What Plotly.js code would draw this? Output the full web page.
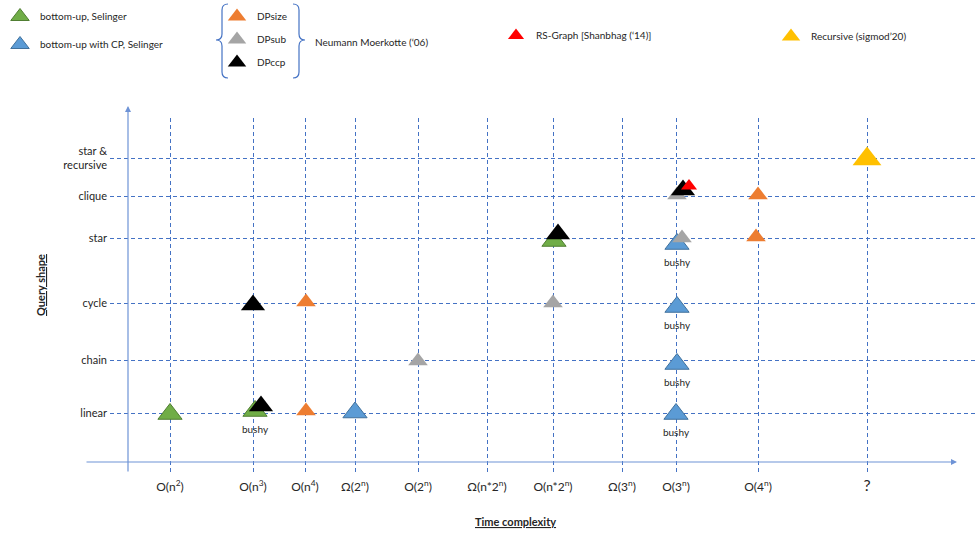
<!DOCTYPE html>
<html>
<head>
<meta charset="utf-8">
<script src="https://cdn.plot.ly/plotly-3.0.1.min.js"></script>
<style>html,body{margin:0;padding:0;background:#fff;}#chart{width:975px;height:533px;}</style>
</head>
<body>
<div id="chart"></div>
<script>
// ---- categories (x: time complexity classes, y: query shapes) ----
const complexities = ['O(n<sup>2</sup>)', 'O(n<sup>3</sup>)', 'O(n<sup>4</sup>)', 'Ω(2<sup>n</sup>)', 'O(2<sup>n</sup>)',
  'Ω(n*2<sup>n</sup>)', 'O(n*2<sup>n</sup>)', 'Ω(3<sup>n</sup>)', 'O(3<sup>n</sup>)', 'O(4<sup>n</sup>)',
  '<span style="font-size:16px">?</span>'];
const complexityPos = [17.0, 25.3, 30.5, 35.5, 41.8, 48.7, 55.3, 62.2, 67.6, 75.8, 86.7];
const queryShapes = ['star &<br>recursive', 'clique', 'star', 'cycle', 'chain', 'linear'];
const queryShapePos = [31.6, 27.8, 23.6, 17.1, 11.4, 6.1];

// ---- series ----
const greenName = 'bottom-up, Selinger';
const greenX = [17.0, 25.5, 55.4];
const greenY = [6.0, 6.3, 23.3];
const greenText = ['', 'bushy', ''];

const blueName = 'bottom-up with CP, Selinger';
const blueX = [35.5, 67.6, 67.7, 67.7, 67.7];
const blueY = [6.15, 6.0, 11.0, 16.7, 23.0];
const blueText = ['', 'bushy', 'bushy', 'bushy', 'bushy'];

const orangeName = 'DPsize';
const orangeX = [30.6, 30.6, 75.8, 75.6];
const orangeY = [17.2, 6.3, 27.9, 23.7];

const greyName = 'DPsub';
const greyX = [41.8, 55.3, 67.7, 68.2];
const greyY = [11.3, 17.1, 27.9, 23.6];

const blackName = 'DPccp';
const blackX = [25.3, 26.1, 55.8, 68.3];
const blackY = [16.9, 6.8, 24.0, 28.4];

const redName = 'RS-Graph [Shanbhag (‘14)]';
const redX = [68.9];
const redY = [28.8];

const yellowName = 'Recursive (sigmod’20)';
const yellowX = [86.7];
const yellowY = [31.5];

const groupLabel = 'Neumann Moerkotte (‘06)';
const xTitle = 'Time complexity';
const yTitle = 'Query shape';

// ---- layout helpers (pixel -> paper) ----
const W = 975, H = 533, ML = 110, MR = 0, MT = 118, MB = 59;
const PW = W - ML - MR, PH = H - MT - MB;
const fx = px => (px - ML) / PW;
const fy = py => (H - MB - py) / PH;
const P = (px, py) => fx(px).toFixed(5) + ',' + fy(py).toFixed(5);

const FONT = 'Lato, "Open Sans", "Liberation Sans", sans-serif';
const TXT = '#262626';

function tri(name, x, y, color, size, legend, group, line, text) {
  const t = {
    type: 'scatter', mode: text ? 'markers+text' : 'markers', name: name, x: x, y: y,
    legend: legend, legendgroup: group, showlegend: true, cliponaxis: false,
    marker: {symbol: 'triangle-up', size: size, color: color,
             line: line ? {color: line, width: 1} : {width: 0}},
    hoverinfo: 'name'
  };
  if (text) {
    t.text = text; t.textposition = 'bottom center';
    t.textfont = {family: FONT, size: 10, color: TXT};
  }
  return t;
}

const traces = [
  tri(greenName, greenX, greenY, '#70AD47', 21, 'legend', 'g1', '#507E32', greenText),
  tri(blueName, blueX, blueY, '#5B9BD5', 21, 'legend', 'g2', '#41719C', blueText),
  tri(orangeName, orangeX, orangeY, '#ED7D31', 17, 'legend2', 'g3', null, null),
  tri(greyName, greyX, greyY, '#A5A5A5', 17, 'legend2', 'g4', null, null),
  tri(blackName, blackX, blackY, '#000000', 21, 'legend2', 'g5', null, null),
  tri(redName, redX, redY, '#FF0000', 14, 'legend3', 'g6', null, null),
  tri(yellowName, yellowX, yellowY, '#FFC000', 25, 'legend4', 'g7', null, null)
];

function leg(pxX, pxY, gap) {
  return {xref: 'container', yref: 'container', x: pxX / W, y: 1 - pxY / H,
    xanchor: 'left', yanchor: 'top', bgcolor: 'rgba(0,0,0,0)', borderwidth: 0,
    font: {family: FONT, size: 10, color: TXT}, itemsizing: 'trace',
    tracegroupgap: gap, itemclick: false, itemdoubleclick: false};
}

const braceColor = '#4472C4';
const layout = {
  width: W, height: H,
  margin: {l: ML, r: MR, t: MT, b: MB, pad: 0, autoexpand: false},
  paper_bgcolor: '#ffffff', plot_bgcolor: '#ffffff',
  font: {family: FONT, color: TXT},
  showlegend: true,
  legend: leg(0, 2, 9),
  legend2: leg(217, 2, 4),
  legend3: leg(496, 21, 0),
  legend4: leg(771, 22, 0),
  xaxis: {
    range: [11, 97.5], tickmode: 'array', tickvals: complexityPos, ticktext: complexities,
    showgrid: true, gridcolor: '#4472C4', griddash: '4px,3px', gridwidth: 1,
    zeroline: false, showline: false, ticks: '', ticklabelstandoff: 4, tickangle: 0, automargin: false,
    tickfont: {family: FONT, size: 12, color: TXT}, fixedrange: true
  },
  yaxis: {
    range: [0, 35.6], tickmode: 'array', tickvals: queryShapePos, ticktext: queryShapes,
    showgrid: true, gridcolor: '#4472C4', griddash: '4px,3px', gridwidth: 1,
    zeroline: false, showline: false, ticks: '', ticklabelstandoff: 2, automargin: false,
    tickfont: {family: FONT, size: 11, color: TXT}, fixedrange: true
  },
  shapes: [
    {type: 'path', xref: 'paper', yref: 'paper', layer: 'above',
     path: 'M' + P(228, 4) + ' Q' + P(222, 4) + ' ' + P(222, 10) + ' L' + P(222, 34) + ' Q' + P(222, 40) + ' ' + P(216, 40) +
           ' Q' + P(222, 40) + ' ' + P(222, 46) + ' L' + P(222, 72) + ' Q' + P(222, 78) + ' ' + P(228, 78),
     line: {color: braceColor, width: 1.2}},
    {type: 'path', xref: 'paper', yref: 'paper', layer: 'above',
     path: 'M' + P(293, 4) + ' Q' + P(299, 4) + ' ' + P(299, 10) + ' L' + P(299, 34) + ' Q' + P(299, 40) + ' ' + P(305, 40) +
           ' Q' + P(299, 40) + ' ' + P(299, 46) + ' L' + P(299, 72) + ' Q' + P(299, 78) + ' ' + P(293, 78),
     line: {color: braceColor, width: 1.2}}
  ],
  annotations: [
    {xref: 'paper', yref: 'paper', x: fx(128), y: fy(106), ax: 0, ay: 367, axref: 'pixel', ayref: 'pixel',
     text: '', showarrow: true, arrowhead: 2, arrowsize: 1, arrowwidth: 1.2, arrowcolor: '#6E93D6', standoff: 0, startstandoff: 0},
    {xref: 'paper', yref: 'paper', x: fx(957), y: fy(462), ax: -872, ay: 0, axref: 'pixel', ayref: 'pixel',
     text: '', showarrow: true, arrowhead: 2, arrowsize: 1, arrowwidth: 1.2, arrowcolor: '#6E93D6', standoff: 0, startstandoff: 0},
    {xref: 'paper', yref: 'paper', x: fx(313), y: fy(42), xanchor: 'left', yanchor: 'middle', showarrow: false,
     text: groupLabel, font: {family: FONT, size: 10, color: TXT}},
    {xref: 'paper', yref: 'paper', x: fx(515), y: fy(521), xanchor: 'center', yanchor: 'middle', showarrow: false,
     text: xTitle, font: {family: FONT, size: 11, color: TXT, weight: 'bold', lineposition: 'under'}},
    {xref: 'paper', yref: 'paper', x: fx(40), y: fy(285), xanchor: 'center', yanchor: 'middle', showarrow: false,
     textangle: -90, text: yTitle, font: {family: FONT, size: 11, color: TXT, weight: 'bold', lineposition: 'under'}}
  ]
};

Plotly.newPlot('chart', traces, layout, {displayModeBar: false, staticPlot: true});
</script>
</body>
</html>
